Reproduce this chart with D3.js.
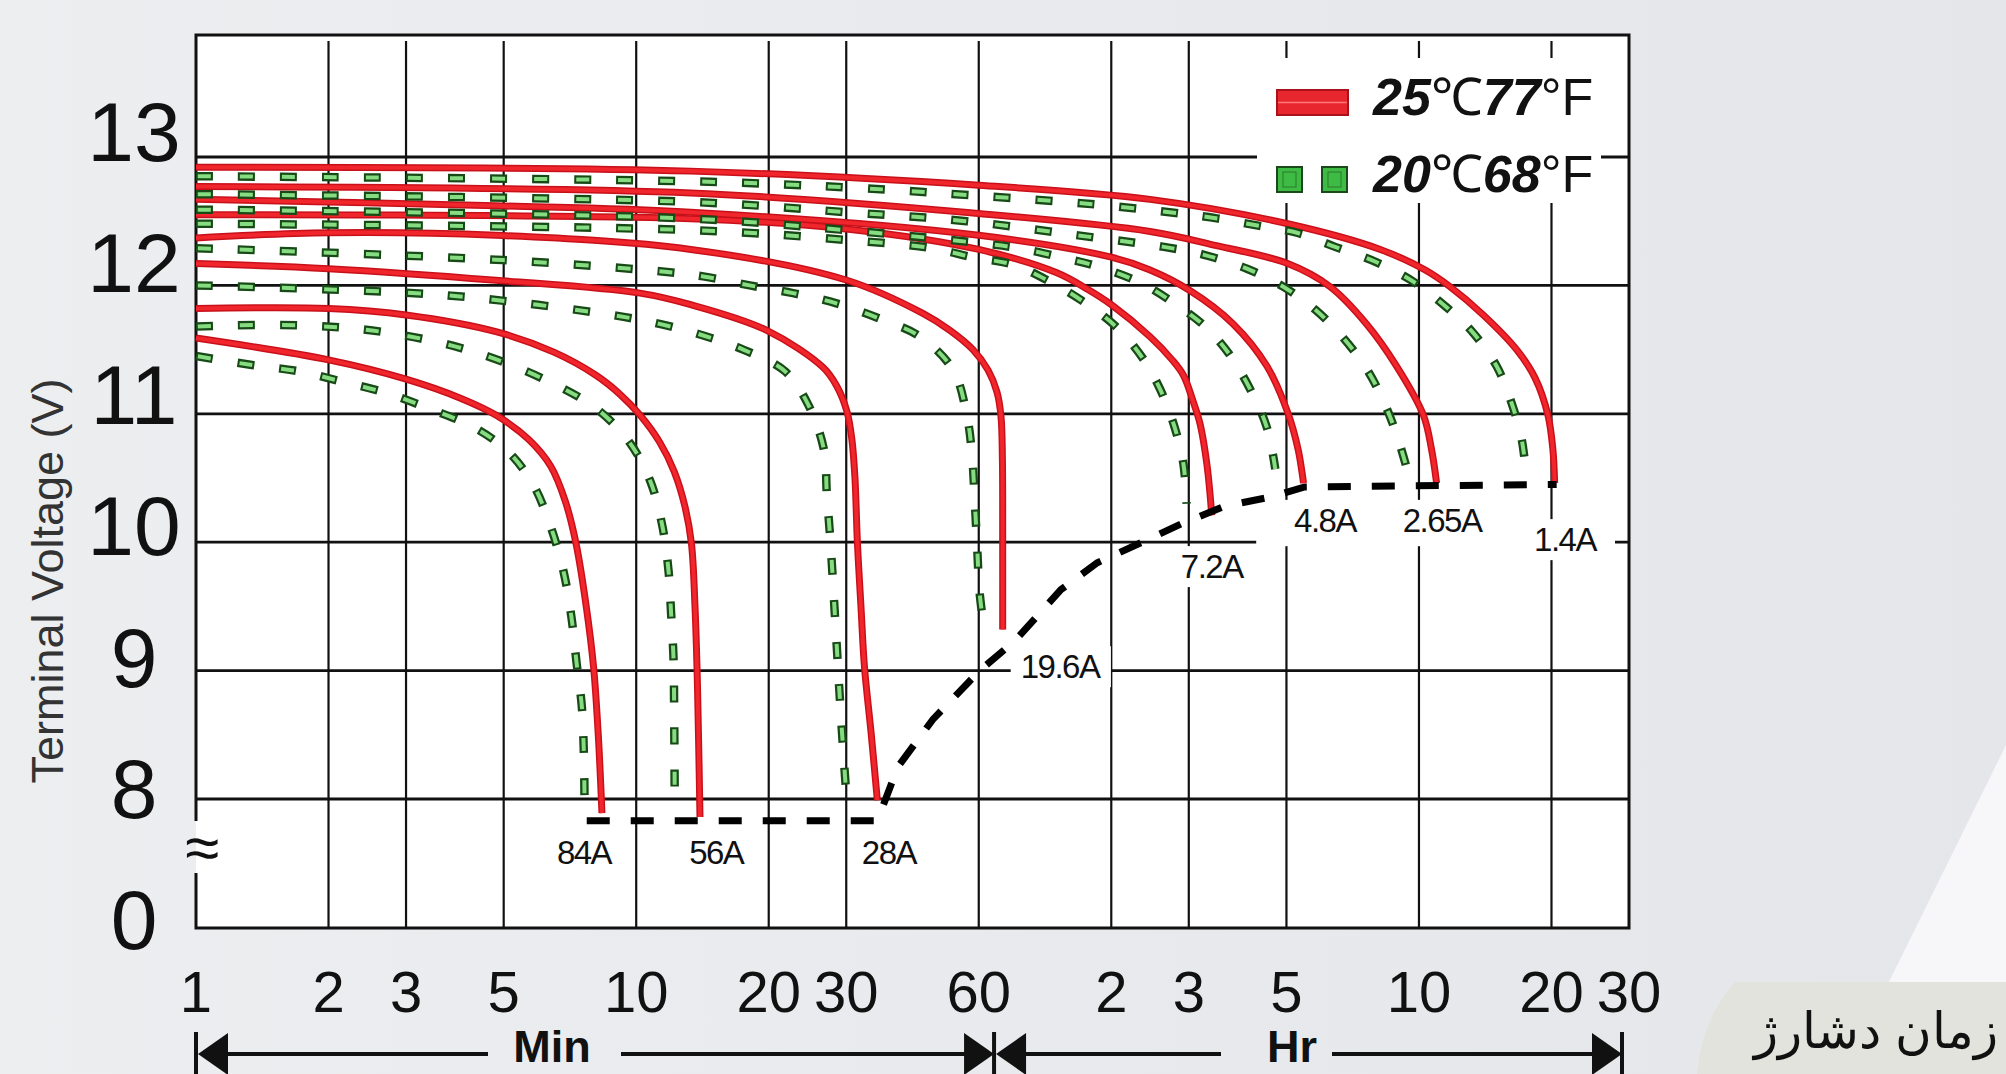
<!DOCTYPE html>
<meta charset="utf-8">
<style>
body { margin: 0; background: #e8e9ed; }
svg { display: block; }
text { font-family: "Liberation Sans", Arial, sans-serif; }
</style>
<body>
<script src="https://d3js.org/d3.v7.min.js"></script>
<script>

// x ticks in minutes, labels as printed (min then hours)
var xTicks = [1, 2, 3, 5, 10, 20, 30, 60, 120, 180, 300, 600, 1200, 1800];
var xTickLabels = ["1", "2", "3", "5", "10", "20", "30", "60", "2", "3", "5", "10", "20", "30"];
var yTicks = [13, 12, 11, 10, 9, 8];

// discharge current labels and where they sit (minutes, volts)
var currents = ["84A", "56A", "28A", "19.6A", "7.2A", "4.8A", "2.65A", "1.4A"];
var labelT = [7.61, 15.2, 37.5, 91.8, 203, 367, 677, 1288];
var labelV = [7.58, 7.58, 7.58, 9.03, 9.81, 10.17, 10.17, 10.02];

// 25C / 77F curves  [minutes, volts]
var red84 = [[1,11.59],[2,11.42],[3,11.27],[4,11.12],[4.8,10.99],[5.7,10.8],[6.4,10.59],[6.9,10.32],[7.3,9.99],[7.7,9.5],[8.0,9.03],[8.2,8.5],[8.36,7.89]];
var red56 = [[1,11.82],[2,11.82],[3,11.77],[4.8,11.64],[6.5,11.48],[8.1,11.3],[9.2,11.15],[10.2,10.99],[11.3,10.78],[12.2,10.55],[12.9,10.28],[13.35,9.99],[13.6,9.5],[13.75,9.0],[13.85,8.5],[13.96,7.86]];
var red28 = [[1,12.17],[2,12.13],[4.8,12.04],[10.2,11.94],[13.3,11.85],[19.8,11.65],[26.6,11.36],[28.5,11.22],[30.1,11.02],[30.9,10.8],[31.4,10.5],[31.8,10.0],[32.4,9.5],[33,9.03],[34.2,8.5],[35.3,7.99]];
var red196 = [[1,12.37],[2,12.41],[4.8,12.39],[13.3,12.28],[30.1,12.04],[44.9,11.78],[51.6,11.65],[58.2,11.5],[63,11.34],[66,11.17],[67.4,10.98],[67.9,10.64],[68,10.0],[68,9.32]];
var red72 = [[1,12.55],[13.3,12.52],[30,12.44],[60,12.28],[90,12.1],[106,11.97],[120,11.85],[147,11.6],[165,11.42],[175,11.3],[184,11.1],[191,10.92],[198,10.6],[203,10.21]];
var red48 = [[1,12.67],[4.8,12.62],[13.3,12.57],[60,12.39],[120,12.22],[147,12.12],[181,11.96],[227,11.7],[271,11.37],[302,11.01],[319,10.72],[328,10.46]];
var red265 = [[1,12.77],[13.3,12.72],[60,12.56],[147,12.42],[208,12.31],[302,12.17],[377,11.99],[456,11.7],[534,11.37],[614,10.99],[641,10.72],[658,10.46]];
var red14 = [[1,12.92],[13.3,12.89],[60,12.78],[147,12.67],[302,12.48],[490,12.28],[620,12.12],[706,11.99],[840,11.77],[1000,11.5],[1101,11.28],[1178,10.99],[1209,10.72],[1220,10.46]];

// 20C / 68F curves
var green84 = [[1,11.45],[1.34,11.38],[1.72,11.33],[2.15,11.25],[2.72,11.16],[3.39,11.04],[4.25,10.9],[5.1,10.71],[5.83,10.45],[6.41,10.11],[6.85,9.76],[7.13,9.41],[7.32,9.06],[7.52,8.73],[7.6,8.39],[7.63,8.03]];
var green56 = [[1,11.68],[1.7,11.69],[2.75,11.63],[4.4,11.47],[6.8,11.2],[8.26,11.02],[9.69,10.77],[10.78,10.47],[11.46,10.13],[11.84,9.78],[12.0,9.45],[12.15,9.11],[12.2,8.6],[12.23,8.03]];
var green28 = [[1,12.0],[2.75,11.95],[4.4,11.9],[8.8,11.77],[11.3,11.7],[14.2,11.61],[17.5,11.5],[21.8,11.33],[24.6,11.07],[26.7,10.72],[27.1,10.38],[27.6,10.02],[28.4,9.32],[29.2,8.63],[30.1,7.97]];
var green196 = [[1,12.29],[4.8,12.2],[11.3,12.11],[14.2,12.07],[18.1,12.0],[22.7,11.94],[28.5,11.86],[35.8,11.74],[44.2,11.6],[52.5,11.34],[56.3,11.0],[57.9,10.69],[58.7,10.35],[59.5,9.96],[60.3,9.6],[61.9,9.29]];
var green72 = [[1,12.48],[13.5,12.43],[31,12.35],[47,12.29],[58,12.22],[72,12.16],[87,12.03],[102,11.89],[122,11.69],[141,11.44],[155,11.19],[167,10.9],[175,10.61],[178,10.3]];
var green48 = [[1,12.59],[13.3,12.52],[30,12.43],[60,12.33],[74,12.29],[92,12.22],[111,12.15],[140,12.02],[167,11.86],[196,11.68],[223,11.46],[250,11.17],[271,10.89],[283,10.57]];
var green265 = [[1,12.71],[13.3,12.65],[30.1,12.57],[56.3,12.5],[106,12.38],[158,12.3],[194,12.24],[244,12.13],[295,11.99],[349,11.81],[404,11.59],[460,11.33],[507,11.04],[543,10.76],[578,10.43]];
var green14 = [[1,12.85],[13.5,12.81],[31.4,12.76],[58.8,12.7],[111,12.63],[172,12.56],[210,12.52],[264,12.46],[317,12.41],[387,12.3],[481,12.18],[582,12.03],[693,11.83],[797,11.63],[901,11.37],[975,11.08],[1027,10.8],[1054,10.48]];

// final discharge voltage line
var endLine = [[7.72,7.83],[35.3,7.83],[39.3,8.25],[47.2,8.62],[60.3,9.0],[72.4,9.23],[92.2,9.63],[111.5,9.84],[141,10.0],[175,10.15],[217,10.28],[274,10.35],[330,10.43],[1233,10.45]];

var redSeries = [red84, red56, red28, red196, red72, red48, red265, red14];
var greenSeries = [green84, green56, green28, green196, green72, green48, green265, green14];

var W = 2006, H = 1074;

// scales
var x = d3.scaleLog().domain([1, 1800]).range([196, 1629]);
var y = d3.scaleLinear().domain([8, 13]).range([799, 157]);
var yLab = d3.scaleLinear().domain([13, 8]).range([132, 789]);   // printed labels sit a little off the lines

var L = x(1), R = x(1800), T = y(13.95), B = y(8) + 129;   // B = broken "0" line

var svg = d3.select("body").append("svg")
    .attr("width", W)
    .attr("height", H);

// background
var grad = svg.append("defs").append("linearGradient").attr("id", "bg");
grad.append("stop").attr("offset", "0").attr("stop-color", "#eceef0");
grad.append("stop").attr("offset", "1").attr("stop-color", "#e5e6ea");
svg.append("rect").attr("width", W).attr("height", H).attr("fill", "url(#bg)");
svg.append("path").attr("d", "M2006,745 L1880,1000 L1845,1074 L2006,1074Z").attr("fill", "#f7f7fa");

// plot area
svg.append("rect")
    .attr("x", L).attr("y", T)
    .attr("width", R - L).attr("height", B - T)
    .attr("fill", "#fff");

// grid
var grid = svg.append("g").attr("stroke", "#111");
grid.selectAll(".vg")
    .data(xTicks.slice(1, -1))
  .enter().append("line")
    .attr("x1", function(d) { return x(d); })
    .attr("x2", function(d) { return x(d); })
    .attr("y1", T + 6).attr("y2", B)
    .attr("stroke-width", 2.2);
grid.selectAll(".hg")
    .data(yTicks)
  .enter().append("line")
    .attr("x1", L).attr("x2", R)
    .attr("y1", function(d) { return y(d); })
    .attr("y2", function(d) { return y(d); })
    .attr("stroke-width", 2.8);

// frame, left edge broken at the axis break
var brk = y(8) + 48;
svg.append("path")
    .attr("d", "M" + L + "," + (brk - 26) + " L" + L + "," + T + " L" + R + "," + T +
               " L" + R + "," + B + " L" + L + "," + B + " L" + L + "," + (brk + 26))
    .attr("fill", "none")
    .attr("stroke", "#111")
    .attr("stroke-width", 3);
svg.append("text")
    .attr("x", L + 6).attr("y", brk)
    .attr("text-anchor", "middle")
    .attr("dominant-baseline", "central")
    .attr("font-size", 62)
    .attr("fill", "#111")
    .text("≈");

// legend box hides the grid behind it
var lg = svg.append("g").attr("transform", "translate(1257,58)");
lg.append("rect").attr("width", 344).attr("height", 145).attr("fill", "#fff");
lg.append("rect").attr("x", 20).attr("y", 32).attr("width", 71).attr("height", 25)
    .attr("fill", "#e8262d").attr("stroke", "#a8121a").attr("stroke-width", 2);
lg.append("line").attr("x1", 21).attr("x2", 90).attr("y1", 44.5).attr("y2", 44.5)
    .attr("stroke", "#f77").attr("stroke-width", 1.5);
[20, 65].forEach(function(dx) {
  lg.append("rect").attr("x", dx).attr("y", 109).attr("width", 25).attr("height", 25)
      .attr("fill", "#3dbb44").attr("stroke", "#1a4a1a").attr("stroke-width", 2);
  lg.append("rect").attr("x", dx + 6).attr("y", 114).attr("width", 13).attr("height", 15)
      .attr("fill", "none").attr("stroke", "#2a7a2a").attr("stroke-width", 1);
});
function legendText(ty, a, b) {
  var t = lg.append("text").attr("x", 116).attr("y", ty).attr("font-size", 52).attr("fill", "#111");
  t.append("tspan").attr("font-weight", "bold").attr("font-style", "italic").text(a);
  t.append("tspan").text("℃");
  t.append("tspan").attr("font-weight", "bold").attr("font-style", "italic").text(b);
  t.append("tspan").text("°F");
}
legendText(57, "25", "77");
legendText(134, "20", "68");

// white boxes behind current labels
var labelSize = 33;
var labG = svg.append("g");
var labelBoxes = labG.selectAll("rect")
    .data(currents)
  .enter().append("rect")
    .attr("fill", "#fff");
var gapBox = labG.append("rect").attr("fill", "#fff");

var line = d3.line()
    .x(function(d) { return x(d[0]); })
    .y(function(d) { return y(d[1]); })
    .curve(d3.curveCatmullRom.alpha(0.5));

// 25C curves
svg.append("g").selectAll("path")
    .data(redSeries)
  .enter().append("path")
    .attr("d", line)
    .attr("fill", "none")
    .attr("stroke", "#c8101a")
    .attr("stroke-width", 7);
svg.append("g").selectAll("path")
    .data(redSeries)
  .enter().append("path")
    .attr("d", line)
    .attr("fill", "none")
    .attr("stroke", "#f0262c")
    .attr("stroke-width", 4);

// 20C curves, outlined green dashes
svg.append("g").selectAll("path")
    .data(greenSeries)
  .enter().append("path")
    .attr("d", line)
    .attr("fill", "none")
    .attr("stroke", "#174a17")
    .attr("stroke-width", 8.5)
    .attr("stroke-dasharray", "17,25");
svg.append("g").selectAll("path")
    .data(greenSeries)
  .enter().append("path")
    .attr("d", line)
    .attr("fill", "none")
    .attr("stroke", "#86dc80")
    .attr("stroke-width", 4)
    .attr("stroke-dasharray", "13,29")
    .attr("stroke-dashoffset", -2);

// end voltage line
svg.append("path")
    .datum(endLine)
    .attr("d", d3.line().x(function(d) { return x(d[0]); }).y(function(d) { return y(d[1]); }))
    .attr("fill", "none")
    .attr("stroke", "#000")
    .attr("stroke-width", 7)
    .attr("stroke-dasharray", "23,21");

// current labels
var labTexts = svg.append("g").selectAll("text")
    .data(currents)
  .enter().append("text")
    .attr("x", function(d, i) { return x(labelT[i]); })
    .attr("y", function(d, i) { return y(labelV[i]); })
    .attr("text-anchor", "middle")
    .attr("dominant-baseline", "central")
    .attr("font-size", labelSize)
    .attr("letter-spacing", -1.5)
    .attr("fill", "#111")
    .text(function(d) { return d; });
labTexts.each(function(d, i) {
  var bb = this.getBBox();
  d3.select(labelBoxes.nodes()[i])
      .attr("x", bb.x - 10).attr("y", bb.y - 2)
      .attr("width", bb.width + 20).attr("height", bb.height + 4);
  if (d === "7.2A") {
    // the 10 V line is left out behind the long-duration labels
    gapBox.attr("x", bb.x + bb.width + 12).attr("y", y(10) - 4)
        .attr("width", R - 14 - (bb.x + bb.width + 12)).attr("height", 8);
  }
});

// y tick labels
svg.append("g").selectAll("text")
    .data(yTicks)
  .enter().append("text")
    .attr("x", 134)
    .attr("y", function(d) { return yLab(d); })
    .attr("text-anchor", "middle")
    .attr("dominant-baseline", "central")
    .attr("font-size", 84)
    .attr("fill", "#111")
    .text(function(d) { return d; });
svg.append("text")
    .attr("x", 134).attr("y", B - 8)
    .attr("text-anchor", "middle")
    .attr("dominant-baseline", "central")
    .attr("font-size", 84)
    .attr("fill", "#111")
    .text("0");

// y title
svg.append("text")
    .attr("transform", "translate(63,581) rotate(-90)")
    .attr("text-anchor", "middle")
    .attr("font-size", 45)
    .attr("fill", "#333")
    .text("Terminal Voltage (V)");

// x tick labels
svg.append("g").selectAll("text")
    .data(xTicks)
  .enter().append("text")
    .attr("x", function(d) { return x(d); })
    .attr("y", 1012)
    .attr("text-anchor", "middle")
    .attr("font-size", 58)
    .attr("fill", "#111")
    .text(function(d, i) { return xTickLabels[i]; });

// Min / Hr range arrows
var ay = 1054, mid = x(65), endX = R - 7;
var arr = svg.append("g").attr("stroke", "#111").attr("fill", "#111");
function bar(px) {
  arr.append("line").attr("x1", px).attr("x2", px).attr("y1", ay - 22).attr("y2", H)
      .attr("stroke-width", 4);
}
function head(tip, dir) {
  arr.append("path")
      .attr("d", "M" + tip + "," + ay + " L" + (tip + dir * 30) + "," + (ay - 21) +
                 " L" + (tip + dir * 30) + "," + (ay + 21) + "Z")
      .attr("stroke", "none");
}
function seg(a, b) {
  arr.append("line").attr("x1", a).attr("x2", b).attr("y1", ay).attr("y2", ay).attr("stroke-width", 4);
}
bar(L); head(L + 2, 1);
seg(L + 30, 488); seg(621, mid - 28);
head(mid, -1); bar(mid); head(mid + 2, 1);
seg(mid + 30, 1221); seg(1332, endX - 28);
head(endX, -1); bar(endX);
svg.append("text").attr("x", 552).attr("y", 1062).attr("text-anchor", "middle")
    .attr("font-size", 45).attr("font-weight", "bold").attr("fill", "#111").text("Min");
svg.append("text").attr("x", 1292).attr("y", 1062).attr("text-anchor", "middle")
    .attr("font-size", 45).attr("font-weight", "bold").attr("fill", "#111").text("Hr");

// persian caption tab
svg.append("path")
    .attr("d", "M1735,982 L2006,982 L2006,1074 L1697,1074 Q1702,1018 1735,982Z")
    .attr("fill", "#e3e3dd");
svg.append("text")
    .attr("x", 1876).attr("y", 1048)
    .attr("text-anchor", "middle")
    .attr("font-family", "DejaVu Sans")
    .attr("font-size", 50)
    .attr("fill", "#111")
    .text("زمان دشارژ");

</script>
</body>
